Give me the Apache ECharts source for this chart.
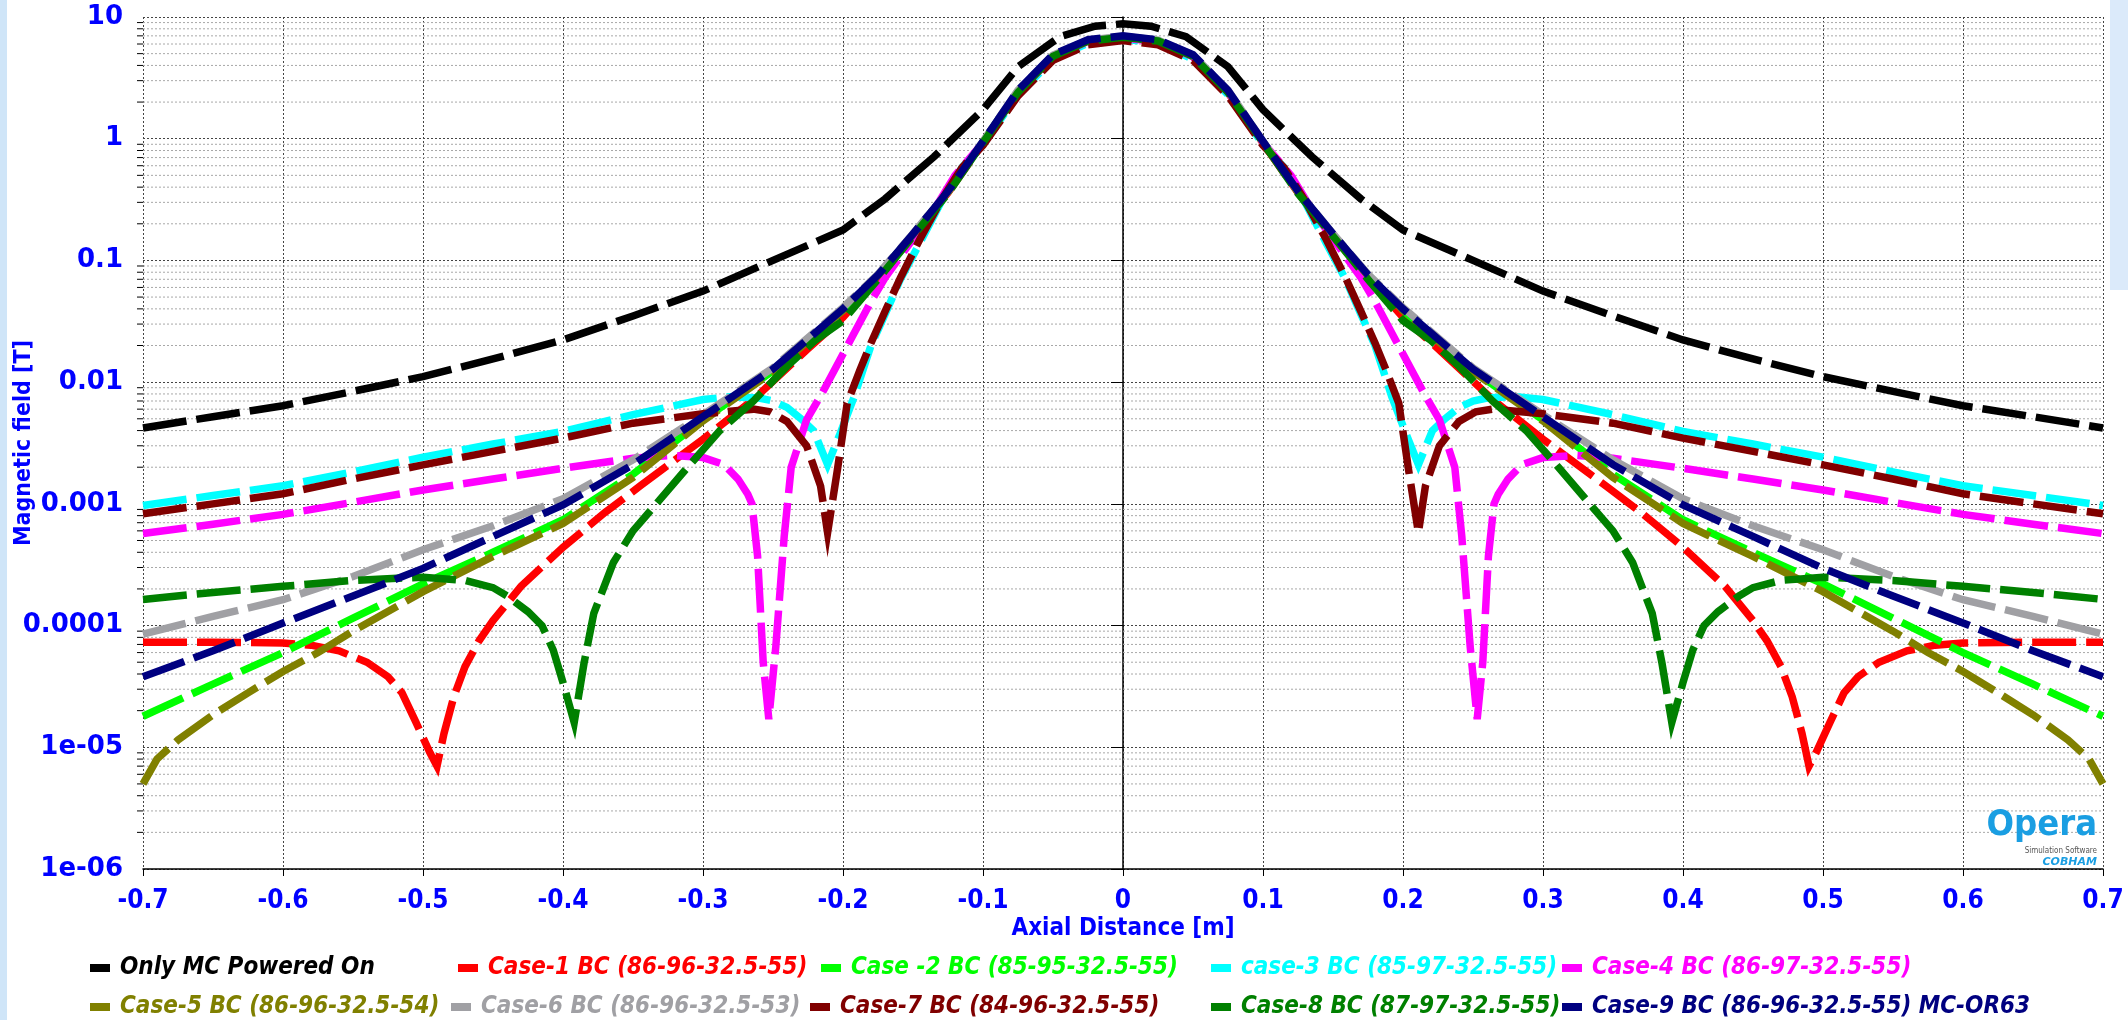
<!DOCTYPE html>
<html><head><meta charset="utf-8">
<script src="https://cdn.jsdelivr.net/npm/echarts@6/dist/echarts.min.js"></script>
<style>html,body{margin:0;padding:0;background:#fff}#c{width:2128px;height:1020px}</style>
</head><body><div id="c"></div>
<script>
const seriesNames = ['Only MC Powered On','Case-1 BC (86-96-32.5-55)','Case -2 BC (85-95-32.5-55)','case-3 BC (85-97-32.5-55)','Case-4 BC (86-97-32.5-55)','Case-5 BC (86-96-32.5-54)','Case-6 BC (86-96-32.5-53)','Case-7 BC (84-96-32.5-55)','Case-8 BC (87-97-32.5-55)','Case-9 BC (86-96-32.5-55) MC-OR63'];
const seriesColors = ['#000000','#ff0000','#00ff00','#00ffff','#ff00ff','#808000','#a0a0a4','#800000','#008000','#000080'];
const yTickLabels = ['1e-06','1e-05','0.0001','0.001','0.01','0.1','1','10'];
const xTickMin = -0.7, xTickMax = 0.7, xTickStep = 0.1;

const onlyMC = [[-0.7,4.2e-3],[-0.65,5.2e-3],[-0.6,6.4e-3],[-0.55,8.4e-3],[-0.5,0.0111],[-0.45,0.0155],[-0.4,0.0222],[-0.35,0.035],[-0.3,0.056],[-0.25,0.10],[-0.2,0.178],[-0.17,0.32],[-0.135,0.71],[-0.1,1.73],[-0.075,3.9],[-0.045,6.9],[-0.02,8.4],[0,8.8],
 [0.02,8.4],[0.045,6.9],[0.075,3.9],[0.1,1.73],[0.135,0.71],[0.17,0.32],[0.2,0.178],[0.25,0.10],[0.3,0.056],[0.35,0.035],[0.4,0.0222],[0.45,0.0155],[0.5,0.0111],[0.55,8.4e-3],[0.6,6.4e-3],[0.65,5.2e-3],[0.7,4.2e-3]];
const case1 = [[-0.7,7.3e-5],[-0.65,7.3e-5],[-0.6,7.2e-5],[-0.58,6.9e-5],[-0.56,6.2e-5],[-0.54,5.0e-5],[-0.525,3.8e-5],[-0.515,2.8e-5],[-0.505,1.6e-5],[-0.495,9e-6],[-0.49,7e-6],[-0.485,1.3e-5],[-0.478,2.6e-5],[-0.47,4.6e-5],[-0.46,7.5e-5],[-0.45,1.1e-4],[-0.43,2.1e-4],[-0.4,4.4e-4],[-0.37,8.5e-4],[-0.345,1.4e-3],[-0.3,3.4e-3],[-0.264,7.2e-3],[-0.226,0.0184],[-0.2,0.034],[-0.175,0.072],[-0.15,0.16],[-0.125,0.36],[-0.1,0.92],[-0.075,2.4],[-0.05,4.7],[-0.025,6.3],[0,6.8],
 [0.025,6.3],[0.05,4.7],[0.075,2.4],[0.1,0.92],[0.125,0.36],[0.15,0.16],[0.175,0.072],[0.2,0.034],[0.226,0.0184],[0.264,7.2e-3],[0.3,3.4e-3],[0.345,1.4e-3],[0.37,8.5e-4],[0.4,4.4e-4],[0.43,2.1e-4],[0.45,1.1e-4],[0.46,7.5e-5],[0.47,4.6e-5],[0.478,2.6e-5],[0.485,1.3e-5],[0.49,7e-6],[0.495,9e-6],[0.505,1.6e-5],[0.515,2.8e-5],[0.525,3.8e-5],[0.54,5.0e-5],[0.56,6.2e-5],[0.58,6.9e-5],[0.6,7.2e-5],[0.65,7.3e-5],[0.7,7.3e-5]];
const case2 = [[-0.7,1.8e-5],[-0.65,3.3e-5],[-0.6,6.0e-5],[-0.55,1.15e-4],[-0.5,2.2e-4],[-0.45,4.0e-4],[-0.4,7.4e-4],[-0.35,1.75e-3],[-0.3,4.9e-3],[-0.25,0.0124],[-0.2,0.039],[-0.175,0.075],[-0.15,0.163],[-0.125,0.365],[-0.1,0.94],[-0.075,2.45],[-0.05,4.8],[-0.025,6.4],[0,6.85],
 [0.025,6.4],[0.05,4.8],[0.075,2.45],[0.1,0.94],[0.125,0.365],[0.15,0.163],[0.175,0.075],[0.2,0.039],[0.25,0.0124],[0.3,4.9e-3],[0.35,1.75e-3],[0.4,7.4e-4],[0.45,4.0e-4],[0.5,2.2e-4],[0.55,1.15e-4],[0.6,6.0e-5],[0.65,3.3e-5],[0.7,1.8e-5]];
const case3 = [[-0.7,9.7e-4],[-0.65,1.17e-3],[-0.6,1.41e-3],[-0.55,1.83e-3],[-0.5,2.42e-3],[-0.45,3.1e-3],[-0.4,3.94e-3],[-0.35,5.4e-3],[-0.3,7.2e-3],[-0.28,7.6e-3],[-0.26,7.4e-3],[-0.25,7.0e-3],[-0.24,6.2e-3],[-0.23,5.0e-3],[-0.221,4.0e-3],[-0.211,2.1e-3],[-0.202,3.8e-3],[-0.192,7.6e-3],[-0.18,0.02],[-0.17,0.036],[-0.159,0.07],[-0.145,0.14],[-0.13,0.3],[-0.115,0.58],[-0.1,0.9],[-0.075,2.3],[-0.05,4.5],[-0.025,6.1],[0,6.6],
 [0.025,6.1],[0.05,4.5],[0.075,2.3],[0.1,0.9],[0.115,0.58],[0.13,0.3],[0.145,0.14],[0.159,0.07],[0.17,0.036],[0.18,0.02],[0.192,7.6e-3],[0.202,3.8e-3],[0.211,2.1e-3],[0.221,4.0e-3],[0.23,5.0e-3],[0.24,6.2e-3],[0.25,7.0e-3],[0.26,7.4e-3],[0.28,7.6e-3],[0.3,7.2e-3],[0.35,5.4e-3],[0.4,3.94e-3],[0.45,3.1e-3],[0.5,2.42e-3],[0.55,1.83e-3],[0.6,1.41e-3],[0.65,1.17e-3],[0.7,9.7e-4]];
const case4 = [[-0.7,5.7e-4],[-0.65,6.8e-4],[-0.6,8.2e-4],[-0.55,1.03e-3],[-0.5,1.3e-3],[-0.45,1.6e-3],[-0.4,1.96e-3],[-0.35,2.37e-3],[-0.323,2.5e-3],[-0.3,2.4e-3],[-0.285,2.1e-3],[-0.275,1.6e-3],[-0.268,1.2e-3],[-0.265,1.0e-3],[-0.261,3.7e-4],[-0.257,5e-5],[-0.253,1.7e-5],[-0.248,6.7e-5],[-0.242,5.4e-4],[-0.237,2.0e-3],[-0.226,4.9e-3],[-0.215,8.1e-3],[-0.2,0.017],[-0.19,0.028],[-0.18,0.046],[-0.17,0.072],[-0.159,0.108],[-0.145,0.18],[-0.135,0.26],[-0.12,0.5],[-0.1,0.93],[-0.075,2.4],[-0.05,4.7],[-0.025,6.3],[0,6.7],
 [0.025,6.3],[0.05,4.7],[0.075,2.4],[0.1,0.93],[0.12,0.5],[0.135,0.26],[0.145,0.18],[0.159,0.108],[0.17,0.072],[0.18,0.046],[0.19,0.028],[0.2,0.017],[0.215,8.1e-3],[0.226,4.9e-3],[0.237,2.0e-3],[0.242,5.4e-4],[0.248,6.7e-5],[0.253,1.7e-5],[0.257,5e-5],[0.261,3.7e-4],[0.265,1.0e-3],[0.268,1.2e-3],[0.275,1.6e-3],[0.285,2.1e-3],[0.3,2.4e-3],[0.323,2.5e-3],[0.35,2.37e-3],[0.4,1.96e-3],[0.45,1.6e-3],[0.5,1.3e-3],[0.55,1.03e-3],[0.6,8.2e-4],[0.65,6.8e-4],[0.7,5.7e-4]];
const case5 = [[-0.7,5e-6],[-0.69,8e-6],[-0.675,1.15e-5],[-0.65,1.85e-5],[-0.625,2.8e-5],[-0.6,4.2e-5],[-0.575,6.0e-5],[-0.55,9.0e-5],[-0.5,1.9e-4],[-0.45,3.7e-4],[-0.4,6.9e-4],[-0.35,1.65e-3],[-0.3,4.8e-3],[-0.25,0.0122],[-0.2,0.039],[-0.175,0.075],[-0.15,0.163],[-0.125,0.365],[-0.1,0.94],[-0.075,2.45],[-0.05,4.8],[-0.025,6.4],[0,6.9],
 [0.025,6.4],[0.05,4.8],[0.075,2.45],[0.1,0.94],[0.125,0.365],[0.15,0.163],[0.175,0.075],[0.2,0.039],[0.25,0.0122],[0.3,4.8e-3],[0.35,1.65e-3],[0.4,6.9e-4],[0.45,3.7e-4],[0.5,1.9e-4],[0.55,9.0e-5],[0.575,6.0e-5],[0.6,4.2e-5],[0.625,2.8e-5],[0.65,1.85e-5],[0.675,1.15e-5],[0.69,8e-6],[0.7,5e-6]];
const case6 = [[-0.7,8.5e-5],[-0.65,1.19e-4],[-0.6,1.63e-4],[-0.55,2.53e-4],[-0.5,4.2e-4],[-0.45,6.6e-4],[-0.4,1.1e-3],[-0.35,2.3e-3],[-0.3,5.4e-3],[-0.25,0.0131],[-0.2,0.041],[-0.175,0.077],[-0.15,0.166],[-0.125,0.37],[-0.1,0.95],[-0.075,2.5],[-0.05,4.85],[-0.025,6.45],[0,6.95],
 [0.025,6.45],[0.05,4.85],[0.075,2.5],[0.1,0.95],[0.125,0.37],[0.15,0.166],[0.175,0.077],[0.2,0.041],[0.25,0.0131],[0.3,5.4e-3],[0.35,2.3e-3],[0.4,1.1e-3],[0.45,6.6e-4],[0.5,4.2e-4],[0.55,2.53e-4],[0.6,1.63e-4],[0.65,1.19e-4],[0.7,8.5e-5]];
const case7 = [[-0.7,8.3e-4],[-0.65,1.0e-3],[-0.6,1.21e-3],[-0.55,1.6e-3],[-0.5,2.09e-3],[-0.45,2.7e-3],[-0.4,3.47e-3],[-0.35,4.6e-3],[-0.3,5.5e-3],[-0.264,6.0e-3],[-0.252,5.7e-3],[-0.24,4.75e-3],[-0.226,3.0e-3],[-0.216,1.4e-3],[-0.211,5.8e-4],[-0.204,1.9e-3],[-0.197,6.7e-3],[-0.188,0.0125],[-0.18,0.021],[-0.17,0.038],[-0.159,0.072],[-0.145,0.15],[-0.13,0.31],[-0.115,0.58],[-0.1,0.88],[-0.075,2.25],[-0.05,4.4],[-0.025,5.9],[0,6.4],
 [0.025,5.9],[0.05,4.4],[0.075,2.25],[0.1,0.88],[0.115,0.58],[0.13,0.31],[0.145,0.15],[0.159,0.072],[0.17,0.038],[0.18,0.021],[0.188,0.0125],[0.197,6.7e-3],[0.204,1.9e-3],[0.211,5.8e-4],[0.216,1.4e-3],[0.226,3.0e-3],[0.24,4.75e-3],[0.252,5.7e-3],[0.264,6.0e-3],[0.3,5.5e-3],[0.35,4.6e-3],[0.4,3.47e-3],[0.45,2.7e-3],[0.5,2.09e-3],[0.55,1.6e-3],[0.6,1.21e-3],[0.65,1.0e-3],[0.7,8.3e-4]];
const case8 = [[-0.7,1.64e-4],[-0.65,1.87e-4],[-0.6,2.1e-4],[-0.55,2.35e-4],[-0.5,2.5e-4],[-0.47,2.35e-4],[-0.45,2.05e-4],[-0.44,1.75e-4],[-0.425,1.3e-4],[-0.415,1.0e-4],[-0.407,6.3e-5],[-0.4,3.4e-5],[-0.392,1.6e-5],[-0.385,4.9e-5],[-0.378,1.26e-4],[-0.364,3.3e-4],[-0.35,6.0e-4],[-0.335,9.5e-4],[-0.311,2.0e-3],[-0.288,4.0e-3],[-0.264,7.0e-3],[-0.24,0.0135],[-0.22,0.022],[-0.2,0.032],[-0.175,0.07],[-0.15,0.158],[-0.125,0.355],[-0.1,0.93],[-0.075,2.4],[-0.05,4.75],[-0.025,6.35],[0,6.8],
 [0.025,6.35],[0.05,4.75],[0.075,2.4],[0.1,0.93],[0.125,0.355],[0.15,0.158],[0.175,0.07],[0.2,0.032],[0.22,0.022],[0.24,0.0135],[0.264,7.0e-3],[0.288,4.0e-3],[0.311,2.0e-3],[0.335,9.5e-4],[0.35,6.0e-4],[0.364,3.3e-4],[0.378,1.26e-4],[0.385,4.9e-5],[0.392,1.6e-5],[0.4,3.4e-5],[0.407,6.3e-5],[0.415,1.0e-4],[0.425,1.3e-4],[0.44,1.75e-4],[0.45,2.05e-4],[0.47,2.35e-4],[0.5,2.5e-4],[0.55,2.35e-4],[0.6,2.1e-4],[0.65,1.87e-4],[0.7,1.64e-4]];
const case9 = [[-0.7,3.8e-5],[-0.65,6.2e-5],[-0.6,1.05e-4],[-0.55,1.75e-4],[-0.5,2.95e-4],[-0.45,5.4e-4],[-0.4,9.8e-4],[-0.35,2.1e-3],[-0.3,5.2e-3],[-0.25,0.0128],[-0.2,0.040],[-0.175,0.076],[-0.15,0.165],[-0.125,0.37],[-0.1,0.95],[-0.075,2.5],[-0.05,4.9],[-0.025,6.5],[0,7.0],
 [0.025,6.5],[0.05,4.9],[0.075,2.5],[0.1,0.95],[0.125,0.37],[0.15,0.165],[0.175,0.076],[0.2,0.040],[0.25,0.0128],[0.3,5.2e-3],[0.35,2.1e-3],[0.4,9.8e-4],[0.45,5.4e-4],[0.5,2.95e-4],[0.55,1.75e-4],[0.6,1.05e-4],[0.65,6.2e-5],[0.7,3.8e-5]];
const seriesData = [onlyMC, case1, case2, case3, case4, case5, case6, case7, case8, case9];

// minor log grid positions (2..9 within each decade)
const minorMultipliers = [2,3,4,5,6,7,8,9];
const decadeExps = [-6,-5,-4,-3,-2,-1,0];

const FONT = '"DejaVu Sans Condensed", "DejaVu Sans", sans-serif';
const FONT_WIDE = '"DejaVu Sans", sans-serif';
const BLUE = '#0000ff';

const minorData = [];
decadeExps.forEach(e => minorMultipliers.forEach(m => minorData.push([0, m * Math.pow(10, e)])));

const chart = echarts.init(document.getElementById('c'), null, {renderer: 'canvas'});

const lineSeries = seriesData.map((d, i) => ({
  name: seriesNames[i], type: 'line', data: d, showSymbol: false, symbol: 'none',
  smooth: false, z: 3 + i, silent: true,
  itemStyle: {color: seriesColors[i]},
  lineStyle: {color: seriesColors[i], width: 7.5, type: [44, 10], cap: 'butt', join: 'miter'}
}));

const minorSeries = {
  type: 'custom', name: '_minor', data: minorData, z: 1, silent: true,
  encode: {x: 0, y: 1},
  renderItem(params, api) {
    const v = api.value(1);
    const p0 = api.coord([xTickMin, v]);
    const p1 = api.coord([xTickMax, v]);
    return {type: 'group', children: [
      {type: 'line', shape: {x1: p0[0], y1: p0[1], x2: p1[0], y2: p1[1]}, style: {stroke: '#a8a8a8', lineWidth: 1, lineDash: [2, 2]}},
      {type: 'line', shape: {x1: p0[0] - 6, y1: p0[1], x2: p0[0], y2: p0[1]}, style: {stroke: '#000', lineWidth: 1}}
    ]};
  }
};

// legend placement: one legend component per item (table-like layout)
const legendLefts = [90, 458, 821, 1211, 1562, 90, 451, 810, 1211, 1562];
const legendTops = [955, 955, 955, 955, 955, 994, 994, 994, 994, 994];
const legends = seriesNames.map((nm, i) => ({
  orient: 'horizontal', left: legendLefts[i], top: legendTops[i],
  itemWidth: 20, itemHeight: 8, icon: 'rect', selectedMode: false, padding: 0,
  textStyle: {fontFamily: FONT, fontSize: 24, fontWeight: 'bold', fontStyle: 'italic', lineHeight: 26, padding: [0, 0, 0, 5], color: seriesColors[i]},
  data: [{name: nm, itemStyle: {color: seriesColors[i]}, textStyle: {color: seriesColors[i]}}]
}));

chart.setOption({
  animation: false,
  backgroundColor: '#ffffff',
  grid: {left: 143, right: 25, top: 17, bottom: 151, containLabel: false, outerBoundsMode: 'none'},
  legend: legends,
  xAxis: {
    type: 'value', min: xTickMin, max: xTickMax, interval: xTickStep,
    name: 'Axial Distance [m]', nameLocation: 'middle', nameGap: 48, nameMoveOverlap: false,
    nameTextStyle: {color: BLUE, fontFamily: FONT, fontSize: 24, fontWeight: 'bold'},
    axisLine: {show: true, onZero: false, lineStyle: {color: '#000', width: 1.5}},
    axisTick: {show: true, length: 7, lineStyle: {color: '#000'}},
    axisLabel: {color: BLUE, fontFamily: FONT, fontSize: 26, fontWeight: 'bold', margin: 19,
      formatter: v => String(+v.toFixed(1))},
    splitLine: {show: true, lineStyle: {color: '#444', type: [2, 2], width: 1}}
  },
  yAxis: {
    type: 'log', logBase: 10, min: 1e-6, max: 10, splitNumber: 7,
    name: 'Magnetic field [T]', nameLocation: 'middle', nameGap: 107, nameRotate: 90, nameMoveOverlap: false,
    nameTextStyle: {color: BLUE, fontFamily: FONT, fontSize: 23, fontWeight: 'bold'},
    axisLine: {show: true, lineStyle: {color: '#000', width: 1.5}},
    axisTick: {show: true, length: 12, lineStyle: {color: '#000'}},
    axisLabel: {color: BLUE, fontFamily: FONT_WIDE, fontSize: 26, fontWeight: 'bold', margin: 20,
      formatter: v => yTickLabels[Math.round(Math.log10(v)) + 6]},
    splitLine: {show: true, lineStyle: {color: '#444', type: [2, 2], width: 1}},
    minorTick: {show: false}, minorSplitLine: {show: false}
  },
  series: [minorSeries].concat(lineSeries),
  graphic: [
    {type: 'rect', left: 0, top: 0, shape: {width: 7, height: 1020}, style: {fill: '#cfe5f8'}, silent: true},
    {type: 'rect', left: 2110, top: 0, shape: {width: 18, height: 290}, style: {fill: '#dbeafa'}, silent: true},
    {type: 'text', right: 31, top: 808, style: {text: 'Opera', fill: '#1a9ee2', font: 'bold 36px "DejaVu Sans Condensed", "DejaVu Sans", sans-serif'}, z: 20},
    {type: 'text', right: 31, top: 847, style: {text: 'Simulation Software', fill: '#555', font: '8px "DejaVu Sans Condensed", sans-serif'}, z: 20},
    {type: 'text', right: 31, top: 857, style: {text: 'COBHAM', fill: '#1a9ee2', font: 'italic bold 11px "DejaVu Sans", sans-serif'}, z: 20}
  ]
});
</script></body></html>
